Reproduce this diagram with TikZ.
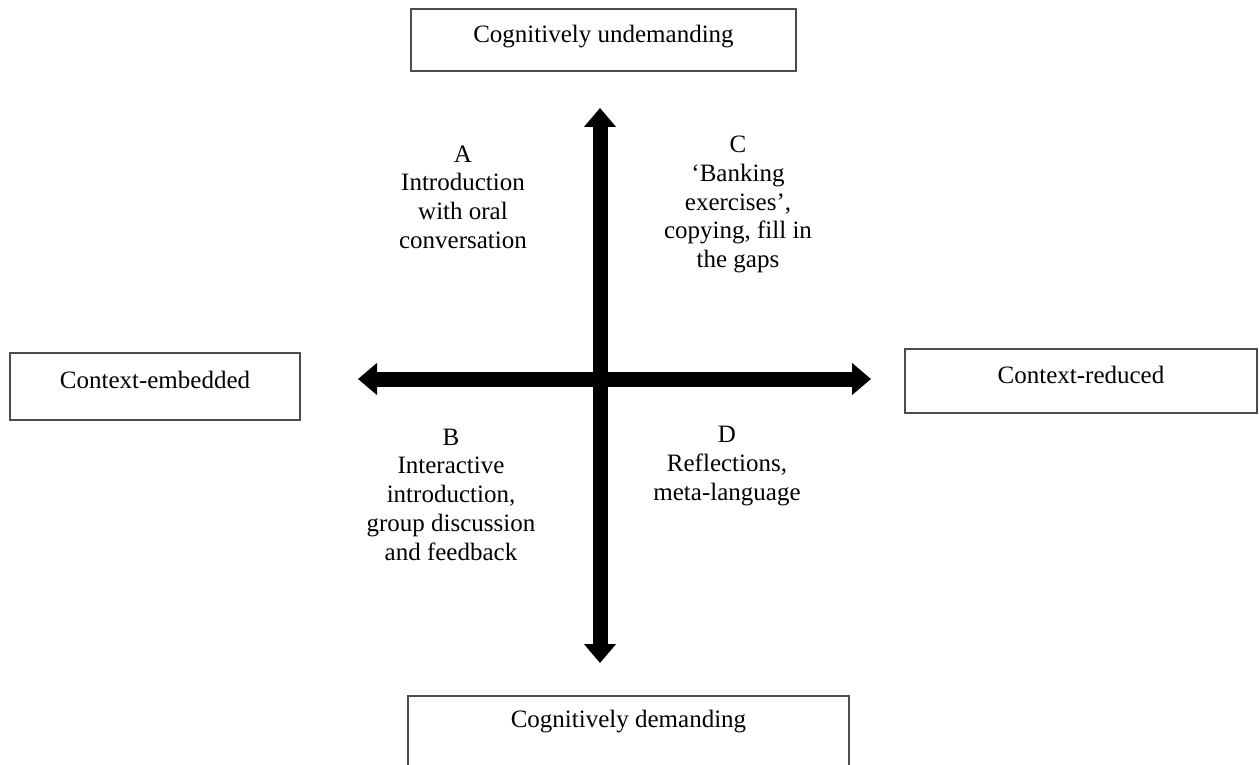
\documentclass[tikz,border=0pt]{standalone}
\usepackage{fontspec}
\setmainfont{Liberation Serif}
\usetikzlibrary{arrows.meta}
\tikzset{
  labelbox/.style={draw=black!70, line width=0.6pt, inner sep=0pt, text height=7pt, align=center},
  quadtext/.style={align=center},
  bigarrow/.style={line width=6pt, {Triangle[width=12.4pt,length=7.6pt]}-{Triangle[width=12.4pt,length=7.6pt]}}
}
\begin{document}
\begin{tikzpicture}[x=0.4pt,y=-0.4pt,font=\fontsize{10}{11.5}\selectfont]
            \useasboundingbox (0,0) rectangle (1259,765);
            \clip (0,0) rectangle (1259,765);
            \coordinate (west) at (358,379);
            \coordinate (east) at (871,379);
            \coordinate (north) at (600,108);
            \coordinate (south) at (600,663);
            \draw[bigarrow] (west) -- (east);
            \draw[bigarrow] (south) -- (north);
            \node[labelbox, minimum width=154pt, minimum height=24.8pt, text depth=5pt] (undemanding) at (603.5,40) {Cognitively undemanding};
            \node[labelbox, minimum width=176.4pt, minimum height=40pt, text depth=21.6pt, anchor=north] (demanding) at (628.5,695) {Cognitively demanding};
            \node[labelbox, minimum width=116pt, minimum height=26.8pt, text depth=5.4pt] (embedded) at (155,386.5) {Context-embedded};
            \node[labelbox, minimum width=140.8pt, minimum height=25.6pt, text depth=5pt] (reduced) at (1081,381) {Context-reduced};
            \node[quadtext] (intro) at (463,197) {A\\Introduction\\with oral\\conversation};
            \node[quadtext] (banking) at (738,204.5) {C\\`Banking\\exercises',\\copying, fill in\\the gaps};
            \node[quadtext] (interactive) at (451,494.5) {B\\Interactive\\introduction,\\group discussion\\and feedback};
            \node[quadtext] (reflect) at (727,466) {D\\Reflections,\\meta-language};
        \end{tikzpicture}
\end{document}
